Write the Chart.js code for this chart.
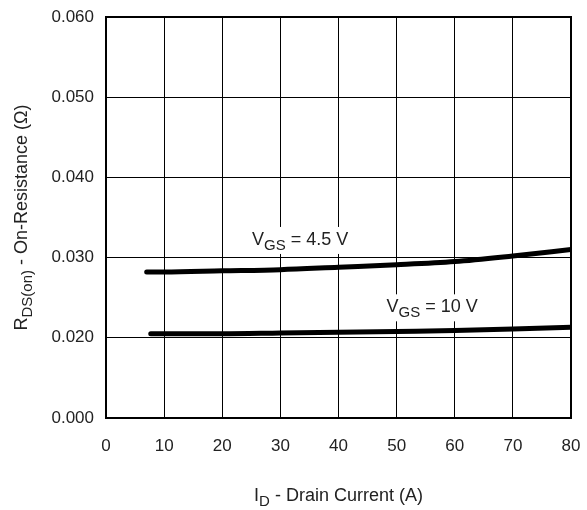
<!DOCTYPE html>
<html>
<head>
<meta charset="utf-8">
<script src="https://cdn.jsdelivr.net/npm/chart.js@4"></script>
<style>
  html, body { margin: 0; padding: 0; background: #fff; }
  #wrap { width: 587px; height: 510px; }
</style>
</head>
<body>
<div id="wrap"><canvas id="rdsChart" width="587" height="510"></canvas></div>
<script>
// Drain current (A) and on-resistance (ohm)
const idVgs45 = [7, 10, 20, 30, 40, 50, 60, 70, 80];
const rdsVgs45 = [0.0282, 0.0282, 0.02835, 0.0285, 0.0288, 0.0291, 0.0295, 0.0302, 0.0310];
const idVgs10 = [7.7, 10, 20, 30, 40, 50, 60, 70, 80];
const rdsVgs10 = [0.0205, 0.0205, 0.0205, 0.0206, 0.0207, 0.0208, 0.0209, 0.0211, 0.0213];

// Axis ticks (the bottom of the y axis is labelled 0.000 on the original)
const xTicks = [0, 10, 20, 30, 40, 50, 60, 70, 80];
const yTickValues = [0.010, 0.020, 0.030, 0.040, 0.050, 0.060];
const yTickLabels = ['0.000', '0.020', '0.030', '0.040', '0.050', '0.060'];

// Curve labels: [parts, x, y] in data units
const curveLabels = [
    [[['V', false], ['GS', true], [' = 4.5 V', false]], 33.4, 0.03225],
    [[['V', false], ['GS', true], [' = 10 V', false]], 56.1, 0.02385]
];

const FONT = '"Liberation Sans", Arial, sans-serif';
const TXT = '#222';

function toPoints(xs, ys) {
    return xs.map((x, i) => ({ x: x, y: ys[i] }));
}

// drop the label overhang padding so the plot box sits where it should
function noPad(s) {
    s.paddingTop = 0;
    s.paddingBottom = 0;
    s.paddingLeft = 0;
    s.paddingRight = 0;
}

// draw text with subscripts, centred on (x, y)
function richText(ctx, parts, x, y, size, bg) {
    const sub = Math.round(size * 0.82);
    let widths = parts.map(p => {
        ctx.font = (p[1] ? sub : size) + 'px ' + FONT;
        return ctx.measureText(p[0]).width;
    });
    const total = widths.reduce((a, b) => a + b, 0);
    if (bg) {
        ctx.fillStyle = '#fff';
        ctx.fillRect(x - total / 2 - 3, y - size * 0.7, total + 6, size * 1.5);
    }
    let cx = x - total / 2;
    ctx.fillStyle = TXT;
    ctx.textBaseline = 'middle';
    ctx.textAlign = 'left';
    parts.forEach((p, i) => {
        ctx.font = (p[1] ? sub : size) + 'px ' + FONT;
        ctx.fillText(p[0], cx, p[1] ? y + size * 0.33 : y);
        cx += widths[i];
    });
}

const decorPlugin = {
    id: 'decor',
    afterDatasetsDraw(chart) {
        const ctx = chart.ctx;
        const a = chart.chartArea;
        const xs = chart.scales.x, ys = chart.scales.y;
        ctx.save();
        curveLabels.forEach(l => {
            richText(ctx, l[0], xs.getPixelForValue(l[1]), ys.getPixelForValue(l[2]), 18, true);
        });
        // frame
        ctx.strokeStyle = '#000';
        ctx.lineWidth = 2;
        ctx.strokeRect(a.left, a.top, a.right - a.left, a.bottom - a.top);
        // axis titles
        richText(ctx, [['I', false], ['D', true], [' - Drain Current (A)', false]],
            (a.left + a.right) / 2, 496, 18, false);
        ctx.translate(22, (a.top + a.bottom) / 2);
        ctx.rotate(-Math.PI / 2);
        richText(ctx, [['R', false], ['DS(on)', true], [' - On-Resistance (\u03A9)', false]], 0, 0, 18, false);
        ctx.restore();
    }
};

new Chart(document.getElementById('rdsChart'), {
    type: 'line',
    data: {
        datasets: [{
            data: toPoints(idVgs45, rdsVgs45),
            borderColor: '#000',
            borderWidth: 5,
            borderCapStyle: 'round',
            pointRadius: 0,
            cubicInterpolationMode: 'monotone'
        }, {
            data: toPoints(idVgs10, rdsVgs10),
            borderColor: '#000',
            borderWidth: 5,
            borderCapStyle: 'round',
            pointRadius: 0,
            cubicInterpolationMode: 'monotone'
        }]
    },
    options: {
        responsive: false,
        animation: false,
        layout: { padding: { top: 17, right: 16, left: 0, bottom: 0 } },
        plugins: {
            legend: { display: false },
            tooltip: { enabled: false }
        },
        scales: {
            x: {
                type: 'linear',
                min: xTicks[0],
                max: xTicks[xTicks.length - 1],
                afterBuildTicks: s => { s.ticks = xTicks.map(v => ({ value: v })); },
                afterFit: s => { s.height = 92; noPad(s); },
                grid: { color: '#000', lineWidth: 1, drawTicks: false },
                border: { display: false },
                ticks: { color: TXT, font: { family: FONT, size: 17 }, padding: 18, maxRotation: 0 }
            },
            y: {
                type: 'linear',
                min: yTickValues[0],
                max: yTickValues[yTickValues.length - 1],
                afterBuildTicks: s => { s.ticks = yTickValues.map(v => ({ value: v })); },
                afterFit: s => { s.width = 106; noPad(s); },
                grid: { color: '#000', lineWidth: 1, drawTicks: false },
                border: { display: false },
                ticks: {
                    color: TXT,
                    font: { family: FONT, size: 17 },
                    padding: 12,
                    callback: (v, i) => yTickLabels[i]
                }
            }
        }
    },
    plugins: [decorPlugin]
});
</script>
</body>
</html>
